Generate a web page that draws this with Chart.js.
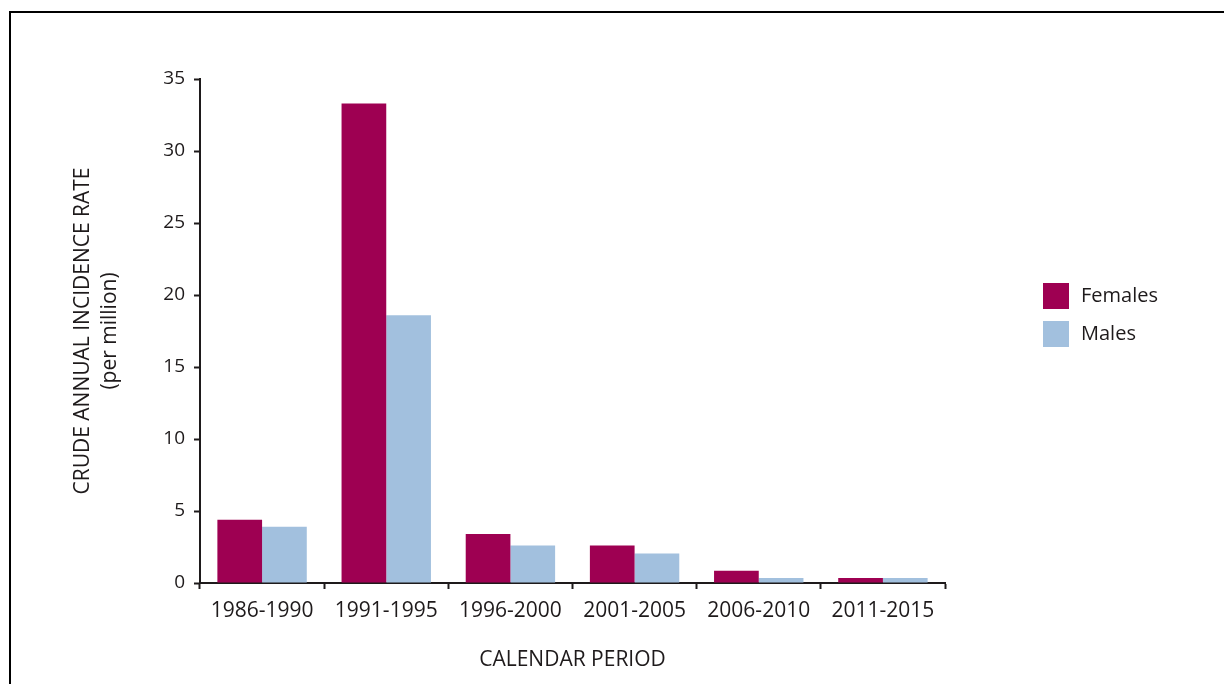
<!DOCTYPE html>
<html>
<head>
<meta charset="utf-8">
<title>Crude annual incidence rate</title>
<script src="https://cdn.jsdelivr.net/npm/chart.js@4"></script>
<style>
    body { margin: 0; background: #fff; }
    #quadro { position: relative; width: 1224px; height: 684px; overflow: hidden; }
    #moldura {
        position: absolute; left: 9px; top: 11px; right: -10px; bottom: -10px;
        border-top: 2px solid #000; border-left: 2px solid #000;
        pointer-events: none;
    }
    #grafico { position: absolute; left: 0; top: 0; }
</style>
</head>
<body>
<div id="quadro">
    <div id="moldura"></div>
    <canvas id="grafico" width="1224" height="684"></canvas>
</div>
<script>
// Dados
const periodos = ["1986-1990", "1991-1995", "1996-2000", "2001-2005", "2006-2010", "2011-2015"];
const mulheres = [4.4, 33.3, 3.4, 2.6, 0.85, 0.35];
const homens = [3.9, 18.6, 2.6, 2.05, 0.35, 0.35];
const ticksY = [0, 5, 10, 15, 20, 25, 30, 35];

const corTexto = "#1e1a1b";
const fonte = "'Open Sans', 'DejaVu Sans', sans-serif";

// Legenda desenhada à mão, à direita do gráfico
const legendaLateral = {
    id: "legendaLateral",
    afterDraw(chart) {
        const ctx = chart.ctx;
        ctx.save();
        ctx.font = "20px " + fonte;
        ctx.textBaseline = "middle";
        ctx.textAlign = "left";
        chart.data.datasets.forEach((ds, i) => {
            const y = 283 + i * 38;
            ctx.fillStyle = ds.backgroundColor;
            ctx.fillRect(1043, y, 26, 26);
            ctx.fillStyle = corTexto;
            ctx.fillText(ds.label, 1081, y + 13);
        });
        ctx.restore();
    }
};

const ctx = document.getElementById("grafico").getContext("2d");

window.grafico = new Chart(ctx, {
    type: "bar",
    data: {
        labels: periodos,
        datasets: [
            { label: "Females", data: mulheres, backgroundColor: "#9e0052" },
            { label: "Males", data: homens, backgroundColor: "#a2c0de" }
        ]
    },
    options: {
        responsive: false,
        animation: false,
        categoryPercentage: 0.72,
        barPercentage: 1.0,
        layout: { padding: { top: 79, right: 279, bottom: 0, left: 0 } },
        plugins: {
            legend: { display: false },
            tooltip: { enabled: false }
        },
        scales: {
            x: {
                afterFit: s => { s.height = 101; },
                border: { color: corTexto, width: 2 },
                grid: {
                    offset: true,
                    drawOnChartArea: false,
                    tickLength: 6,
                    tickColor: corTexto,
                    tickWidth: 2
                },
                ticks: { color: corTexto, padding: 9, font: { family: fonte, size: 21 } },
                title: {
                    display: true,
                    text: "CALENDAR PERIOD",
                    color: corTexto,
                    font: { family: fonte, size: 21, lineHeight: 1.2 },
                    padding: { top: 0, bottom: 11 }
                }
            },
            y: {
                min: 0,
                max: 35,
                afterFit: s => { s.width = 200; },
                afterBuildTicks: s => { s.ticks = ticksY.map(v => ({ value: v })); },
                border: { color: corTexto, width: 2 },
                grid: {
                    drawOnChartArea: false,
                    tickLength: 6,
                    tickColor: corTexto,
                    tickWidth: 2
                },
                ticks: { color: corTexto, padding: 9, font: { family: fonte, size: 19 } },
                title: {
                    display: true,
                    text: ["CRUDE ANNUAL INCIDENCE RATE", "(per million)"],
                    color: corTexto,
                    font: { family: fonte, size: 21, lineHeight: 1.29 },
                    padding: { top: 69, bottom: 0 }
                }
            }
        }
    },
    plugins: [legendaLateral]
});
</script>
</body>
</html>
